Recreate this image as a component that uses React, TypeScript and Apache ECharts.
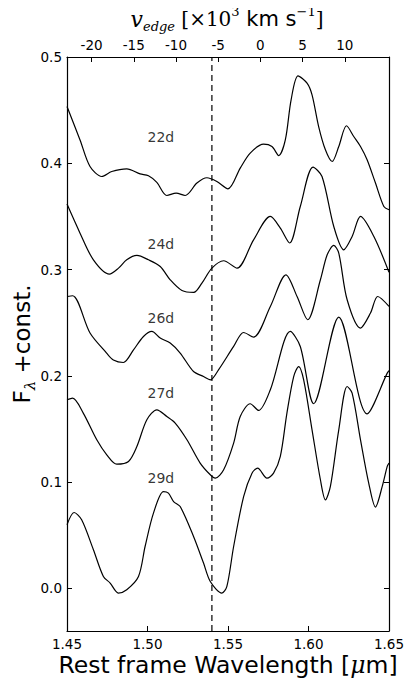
import React, { useEffect, useRef } from "react";
import * as echarts from "echarts";

// Wavelength (micron) and flux arrays for each epoch
const wave22 = [1.45, 1.4581, 1.4643, 1.4716, 1.4778, 1.4871, 1.4954, 1.5006, 1.5058, 1.512, 1.5178, 1.5234, 1.5307, 1.5369, 1.5431, 1.55, 1.5576, 1.5638, 1.5721, 1.5773, 1.5815, 1.5856, 1.5892, 1.5935, 1.5991, 1.6022, 1.6063, 1.6105, 1.6147, 1.6188, 1.6236, 1.6281, 1.6323, 1.6364, 1.6416, 1.6468, 1.65];
const flux22 = [0.4534, 0.422, 0.397, 0.3876, 0.3923, 0.3948, 0.39, 0.3882, 0.382, 0.3697, 0.372, 0.3697, 0.3814, 0.3864, 0.3829, 0.376, 0.3955, 0.4096, 0.418, 0.4158, 0.4073, 0.422, 0.4597, 0.4823, 0.4754, 0.4644, 0.4346, 0.4127, 0.4017, 0.4158, 0.4353, 0.4252, 0.4158, 0.4033, 0.3814, 0.3594, 0.3563];

const wave24 = [1.45, 1.4581, 1.4664, 1.4763, 1.482, 1.4871, 1.4934, 1.5006, 1.5079, 1.5141, 1.5214, 1.5287, 1.5338, 1.54, 1.5473, 1.5556, 1.5659, 1.5763, 1.5825, 1.5883, 1.5949, 1.6028, 1.6084, 1.6157, 1.6219, 1.6271, 1.6323, 1.6406, 1.65];
const flux24 = [0.3616, 0.3343, 0.3092, 0.2958, 0.3014, 0.3092, 0.3133, 0.3092, 0.3029, 0.2904, 0.2803, 0.2785, 0.2873, 0.3014, 0.3083, 0.3014, 0.328, 0.35, 0.339, 0.325, 0.3594, 0.3964, 0.3876, 0.3405, 0.3186, 0.3311, 0.35, 0.3311, 0.2975];

const wave26 = [1.45, 1.4535, 1.4643, 1.4746, 1.4788, 1.485, 1.4913, 1.4975, 1.5027, 1.5079, 1.5141, 1.5203, 1.5286, 1.5348, 1.539, 1.5441, 1.5535, 1.5597, 1.5659, 1.5763, 1.586, 1.5929, 1.5995, 1.6074, 1.6116, 1.6157, 1.6188, 1.624, 1.6323, 1.6385, 1.643, 1.65];
const flux26 = [0.2747, 0.2754, 0.2403, 0.2215, 0.215, 0.2126, 0.2245, 0.2371, 0.2418, 0.2356, 0.2309, 0.2215, 0.2041, 0.1994, 0.1963, 0.2057, 0.2277, 0.2408, 0.2365, 0.2653, 0.2951, 0.2747, 0.2528, 0.2904, 0.3139, 0.3227, 0.3155, 0.2716, 0.245, 0.2591, 0.2747, 0.2653];

const wave27 = [1.45, 1.4535, 1.4601, 1.4685, 1.4747, 1.4809, 1.4882, 1.4934, 1.4996, 1.5058, 1.512, 1.5172, 1.5245, 1.5327, 1.539, 1.5421, 1.5473, 1.5535, 1.5576, 1.5638, 1.569, 1.5763, 1.5887, 1.5949, 1.6032, 1.6188, 1.6364, 1.6489, 1.65];
const flux27 = [0.1775, 0.179, 0.165, 0.1399, 0.1258, 0.117, 0.1195, 0.1336, 0.1587, 0.1681, 0.1618, 0.1556, 0.1399, 0.118, 0.107, 0.1038, 0.1117, 0.1368, 0.1618, 0.1738, 0.1675, 0.187, 0.2418, 0.2277, 0.1738, 0.2553, 0.1643, 0.2026, 0.205];

const wave29 = [1.45, 1.4544, 1.4591, 1.4664, 1.4726, 1.4768, 1.4819, 1.4871, 1.4944, 1.4985, 1.5037, 1.5099, 1.513, 1.5162, 1.5203, 1.5286, 1.5348, 1.539, 1.5462, 1.5493, 1.5535, 1.5597, 1.5649, 1.5684, 1.5742, 1.5783, 1.5825, 1.5866, 1.5908, 1.5939, 1.597, 1.6022, 1.6074, 1.6105, 1.6136, 1.6188, 1.624, 1.6271, 1.6323, 1.6374, 1.6416, 1.6458, 1.6489, 1.65];
const flux29 = [0.0599, 0.0715, 0.0646, 0.0364, 0.0113, 0.0051, -0.0043, -0.0012, 0.0113, 0.0395, 0.0709, 0.0912, 0.0897, 0.0818, 0.0771, 0.0489, 0.0239, 0.0066, -0.0043, 0.0019, 0.0395, 0.0865, 0.1085, 0.1132, 0.1038, 0.1085, 0.1242, 0.165, 0.1994, 0.2088, 0.1963, 0.1493, 0.1023, 0.0834, 0.096, 0.1493, 0.19, 0.1838, 0.1399, 0.0992, 0.0766, 0.096, 0.1148, 0.118];

// Epoch labels
const epochLabels = ["22d", "24d", "26d", "27d", "29d"];
const labelWave = 1.5;
const labelFlux = [0.4247, 0.3245, 0.254, 0.1838, 0.1038];

// Reference wavelength (dashed line)
const refWave = 1.54;

// Axis ranges and ticks
const waveMin = 1.45;
const waveMax = 1.65;
const waveStep = 0.05;
const fluxMin = -0.04;
const fluxMax = 0.5;
const fluxTicks = [0.0, 0.1, 0.2, 0.3, 0.4, 0.5];
const velMin = -22.91;
const velMax = 15.24;
const velTicks = [-20, -15, -10, -5, 0, 5, 10];

const zip = (a: number[], b: number[]) => a.map((x, i) => [x, b[i]]);

export default function App() {
  const ref = useRef<HTMLDivElement>(null);
  useEffect(() => {
    if (!ref.current) return;
    const chart = echarts.init(ref.current, undefined, { renderer: "svg" });
    const font = "DejaVu Sans";
    const lineStyle = { color: "#000", width: 1.2 };
    const axisLine = { show: true, onZero: false, lineStyle: { color: "#000", width: 1.2 } };
    const tickCommon = { inside: true, length: 5, lineStyle: { color: "#000", width: 1 } };
    const curves = [
      zip(wave22, flux22),
      zip(wave24, flux24),
      zip(wave26, flux26),
      zip(wave27, flux27),
      zip(wave29, flux29),
    ];
    chart.setOption({
      animation: false,
      backgroundColor: "#fff",
      grid: { left: 67, right: 26, top: 57, bottom: 61, containLabel: false },
      xAxis: [
        {
          type: "value",
          position: "bottom",
          min: waveMin,
          max: waveMax,
          interval: waveStep,
          axisLine,
          axisTick: tickCommon,
          axisLabel: {
            color: "#000",
            fontFamily: font,
            fontSize: 13.5,
            margin: 6,
            formatter: (v: number) => v.toFixed(2),
          },
          splitLine: { show: false },
        },
        {
          type: "value",
          position: "top",
          min: velMin,
          max: velMax,
          axisLine,
          axisTick: { ...tickCommon, customValues: velTicks },
          axisLabel: {
            color: "#000",
            fontFamily: font,
            fontSize: 13.5,
            margin: 5,
            customValues: velTicks,
            formatter: (v: number) => String(v),
          },
          splitLine: { show: false },
        },
      ],
      yAxis: [
        {
          type: "value",
          position: "left",
          min: fluxMin,
          max: fluxMax,
          axisLine,
          axisTick: { ...tickCommon, customValues: fluxTicks },
          axisLabel: {
            color: "#000",
            fontFamily: font,
            fontSize: 13.5,
            margin: 5,
            customValues: fluxTicks,
            formatter: (v: number) => v.toFixed(1),
          },
          splitLine: { show: false },
        },
        {
          type: "value",
          position: "right",
          min: fluxMin,
          max: fluxMax,
          axisLine,
          axisTick: { ...tickCommon, customValues: fluxTicks },
          axisLabel: { show: false },
          splitLine: { show: false },
        },
      ],
      series: [
        ...curves.map((d) => ({
          type: "line",
          data: d,
          xAxisIndex: 0,
          yAxisIndex: 0,
          showSymbol: false,
          smooth: 0.3,
          lineStyle,
          silent: true,
        })),
        {
          type: "line",
          data: [
            [refWave, fluxMin],
            [refWave, fluxMax],
          ],
          xAxisIndex: 0,
          yAxisIndex: 0,
          showSymbol: false,
          lineStyle: { color: "#000", width: 1.2, type: [6, 4] },
          silent: true,
        },
        {
          type: "scatter",
          xAxisIndex: 0,
          yAxisIndex: 0,
          symbolSize: 0,
          data: epochLabels.map((n, i) => ({ value: [labelWave, labelFlux[i]], name: n })),
          label: {
            show: true,
            position: "inside",
            align: "left",
            verticalAlign: "middle",
            formatter: (p: any) => p.name,
            color: "#000",
            fontFamily: font,
            fontSize: 14,
          },
          silent: true,
        },
      ],
      graphic: [
        {
          type: "text",
          x: 227,
          y: 19,
          style: {
            text: "{v|v}{sub|edge}{n| [×10}{sup|3}{s| km s}{sup|−1}{n|]}",
            align: "center",
            verticalAlign: "middle",
            fill: "#000",
            rich: {
              v: { fontFamily: "DejaVu Serif", fontStyle: "italic", fontSize: 22, lineHeight: 28, fill: "#000" },
              sub: { fontFamily: "DejaVu Serif", fontStyle: "italic", fontSize: 13, lineHeight: 13, verticalAlign: "bottom", fill: "#000" },
              n: { fontFamily: "DejaVu Serif", fontSize: 20, lineHeight: 28, fill: "#000" },
              sup: { fontFamily: "DejaVu Serif", fontSize: 13, lineHeight: 16, verticalAlign: "top", fill: "#000" },
              s: { fontFamily: "DejaVu Sans", fontSize: 21, lineHeight: 28, fill: "#000" },
            },
          },
        },
        {
          type: "text",
          x: 228,
          y: 665,
          style: {
            text: "{a|Rest frame Wavelength [}{m|μ}{a|m]}",
            align: "center",
            verticalAlign: "middle",
            fill: "#000",
            rich: {
              a: { fontFamily: "DejaVu Sans", fontSize: 23.5, lineHeight: 30, fill: "#000" },
              m: { fontFamily: "DejaVu Serif", fontStyle: "italic", fontSize: 23.5, lineHeight: 30, fill: "#000" },
            },
          },
        },
        {
          type: "text",
          x: 22,
          y: 344,
          rotation: Math.PI / 2,
          style: {
            text: "{a|F}{sub|λ}{a| +const.}",
            align: "center",
            verticalAlign: "middle",
            fill: "#000",
            rich: {
              a: { fontFamily: "DejaVu Sans", fontSize: 23, lineHeight: 30, fill: "#000" },
              sub: { fontFamily: "DejaVu Serif", fontStyle: "italic", fontSize: 15, lineHeight: 15, verticalAlign: "bottom", fill: "#000" },
            },
          },
        },
      ],
    });
    return () => chart.dispose();
  }, []);
  return <div ref={ref} style={{ width: 415, height: 692, margin: -8 }} />;
}
